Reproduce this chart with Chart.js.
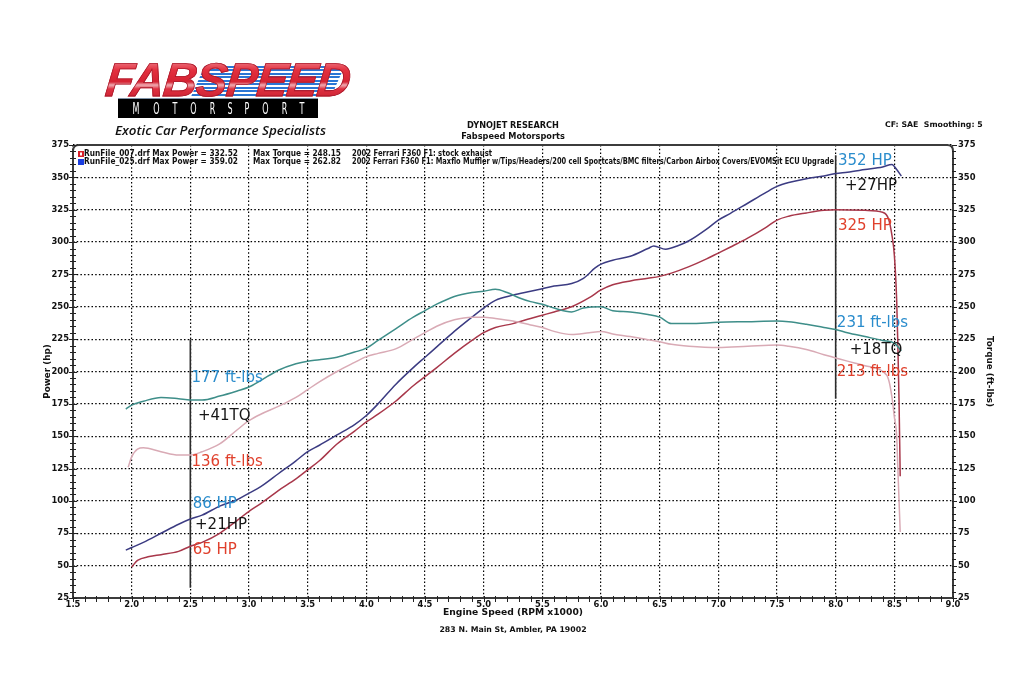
<!DOCTYPE html>
<html><head><meta charset="utf-8">
<script src="https://cdn.jsdelivr.net/npm/chart.js@4.4.1/dist/chart.umd.min.js"></script>
<style>
html,body{margin:0;padding:0;background:#fff;}
#wrap{position:relative;width:1024px;height:686px;overflow:hidden;background:#fff;}
#c{position:absolute;left:0;top:0;}
.abs{position:absolute;white-space:nowrap;}
#stripes{left:198px;top:66px;width:140px;height:30px;
  background:repeating-linear-gradient(180deg,#1f6fd2 0 2px,#ffffff 2px 3.5px);
  transform:skewX(-24deg);opacity:0.95;}
#fab{left:106px;top:56px;font:italic bold 47px 'Liberation Sans',Arial,sans-serif;line-height:47px;
  letter-spacing:-1px;color:transparent;
  background:linear-gradient(180deg,#f3a2aa 0%,#e3303f 30%,#d52232 55%,#f0b0b6 62%,#de3040 70%,#c41d2d 100%);
  -webkit-background-clip:text;background-clip:text;-webkit-text-stroke:0.8px #a9192a;}
#moto{left:118px;top:98px;width:200px;height:20px;background:#000;border-top:1px solid #7f93a8;
  display:flex;justify-content:space-between;align-items:center;padding:0 11px;box-sizing:border-box;}
#moto span{color:#fff;font:16px 'DejaVu Sans',sans-serif;line-height:18px;display:inline-block;transform:scaleX(0.5);}
#tag{left:115px;top:121px;font:italic 600 13px 'Open Sans','DejaVu Sans',sans-serif;color:#111;line-height:18px;}
</style></head><body>
<div id="wrap">
<canvas id="c" width="1024" height="686"></canvas>
<div id="stripes" class="abs"></div>
<div id="fab" class="abs">FABSPEED</div>
<div id="moto" class="abs"><span>M</span><span>O</span><span>T</span><span>O</span><span>R</span><span>S</span><span>P</span><span>O</span><span>R</span><span>T</span></div>
<div id="tag" class="abs">Exotic Car Performance Specialists</div>
</div>
<script>
// ---------------- DATA ----------------
const rpmTicks = ['1.5','2.0','2.5','3.0','3.5','4.0','4.5','5.0','5.5','6.0','6.5','7.0','7.5','8.0','8.5','9.0'];
const powerTicks = [25,50,75,100,125,150,175,200,225,250,275,300,325,350,375];

// RunFile_025 (modified) power, hp
const rpmHpMod = [1.95,2.0,2.1,2.25,2.4,2.5,2.6,2.75,2.9,3.0,3.1,3.25,3.4,3.5,3.6,3.75,3.9,4.0,4.1,4.25,4.4,4.5,4.6,4.75,4.9,5.0,5.1,5.25,5.4,5.5,5.6,5.75,5.85,5.95,6.0,6.1,6.25,6.4,6.45,6.55,6.65,6.75,6.9,7.0,7.1,7.25,7.4,7.5,7.6,7.75,7.9,8.0,8.1,8.25,8.4,8.48,8.52,8.56];
const hpMod    = [62,64,68,75,82,86,89,96,101,106,111,121,131,138,143,151,159,166,175,190,203,211,219,231,242,249,255,259,262,264,266,268,272,280,283,286,289,295,297,294.5,297,301,310,317,322,330,338,343,346,349,351,353,354,356,358,360,356,351];

// RunFile_007 (stock) power, hp
const rpmHpStock = [2.0,2.05,2.15,2.25,2.4,2.5,2.6,2.75,2.9,3.0,3.1,3.25,3.4,3.5,3.6,3.75,3.9,4.0,4.1,4.25,4.4,4.5,4.6,4.75,4.9,5.0,5.1,5.25,5.4,5.5,5.6,5.75,5.9,6.0,6.1,6.25,6.4,6.5,6.6,6.75,6.9,7.0,7.1,7.25,7.4,7.5,7.6,7.75,7.9,8.0,8.25,8.4,8.45,8.48,8.5,8.52,8.53,8.54,8.55];
const hpStock    = [49,54,57,58.5,61,65,68,75,85,92,98,108,117,124,131,144,154,161,167,177,189,196,203,214,224,230,234,237,241,243.5,246,250,257,263,267,270,272,273.5,276,281,287,291.5,296,303,311,317,320,322.5,324.5,325,324.5,323,318,305,290,255,220,178,119];

// RunFile_025 (modified) torque, ft-lbs
const rpmTqMod = [1.95,2.0,2.1,2.25,2.4,2.5,2.6,2.75,2.9,3.0,3.1,3.25,3.4,3.5,3.6,3.75,3.9,4.0,4.1,4.25,4.4,4.5,4.6,4.75,4.9,5.0,5.1,5.2,5.3,5.4,5.5,5.6,5.75,5.85,6.0,6.1,6.25,6.4,6.5,6.6,6.75,7.0,7.25,7.5,7.6,7.75,7.9,8.0,8.1,8.25,8.4,8.5,8.56];
const tqMod    = [171,174,177,180,179,178,178,181,185,188,193,201,206,208,209,211,215,218,224,233,242,247,252,258,261,262,263.5,261,257,254,252,249,246,249,250,247,246,244,242,237,237,238,238.5,239,238.5,236.5,234,232.5,230,227,224,222,216];

// RunFile_007 (stock) torque, ft-lbs
const rpmTqStock = [1.97,2.0,2.05,2.1,2.25,2.4,2.5,2.6,2.75,2.9,3.0,3.1,3.25,3.4,3.5,3.6,3.75,3.9,4.0,4.1,4.25,4.4,4.5,4.6,4.75,4.9,5.0,5.1,5.25,5.4,5.5,5.6,5.75,5.9,6.0,6.1,6.25,6.4,6.5,6.6,6.75,7.0,7.25,7.5,7.6,7.75,7.9,8.0,8.1,8.25,8.4,8.45,8.48,8.5,8.52,8.53,8.55];
const tqStock    = [126,134,140,141,138,135.5,135.5,138,144,155,162,167,173,180,186,192,200,207,211.5,214,217.5,225,230,235,240,242,242,241,239,236,234,231,228.5,230,231,229,227,224.5,223,221,219.5,218.5,219.5,220.5,219.5,217,213,210.5,208,204.5,200,194,180,165,150,125,76];

// comparison marker lines (rpm, low value, high value)
const markerRpm  = [2.5, 8.0];
const markerLow  = [33, 179];
const markerHigh = [225, 367];

// call-out labels (text, rpm, value, colour group)
const calloutText  = ['177 ft-lbs','+41TQ','136 ft-lbs','86 HP','+21HP','65 HP','352 HP','+27HP','325 HP','231 ft-lbs','+18TQ','213 ft-lbs'];
const calloutRpm   = [2.51,2.565,2.51,2.52,2.54,2.52,8.02,8.08,8.02,8.01,8.12,8.01];
const calloutValue = [195.2,165.6,130.3,97.6,81.4,62.1,362.2,343.6,312.5,237.3,216.6,199.9];
const calloutGroup = ['mod','gain','stock','mod','gain','stock','mod','gain','stock','mod','gain','stock'];

const legendRows = [
  ['RunFile_007.drf Max Power = 332.52','Max Torque = 248.15','2002 Ferrari F360 F1: stock exhaust'],
  ['RunFile_025.drf Max Power = 359.02','Max Torque = 262.82','2002 Ferrari F360 F1: Maxflo Muffler w/Tips/Headers/200 cell Sportcats/BMC filters/Carbon Airbox Covers/EVOMSit ECU Upgrade']
];

// ---------------- STYLE ----------------
const C = {
  hpMod:'#3b3b82', hpStock:'#a8374a', tqMod:'#3e8e89', tqStock:'#d9aab5',
  mod:'#2a8ccc', stock:'#e0402c', gain:'#151515'
};
const pts = (xs, ys) => xs.map((x,i)=>({x, y:ys[i]}));
const lineDs = (data, color, axis) => ({data, borderColor:color, borderWidth:1.5, pointRadius:0,
  cubicInterpolationMode:'monotone', fill:false, yAxisID:axis});

const datasets = [
  lineDs(pts(rpmTqStock,tqStock), C.tqStock, 'yR'),
  lineDs(pts(rpmTqMod,tqMod), C.tqMod, 'yR'),
  lineDs(pts(rpmHpStock,hpStock), C.hpStock, 'y'),
  lineDs(pts(rpmHpMod,hpMod), C.hpMod, 'y'),
];
markerRpm.forEach((r,i)=>{
  datasets.push({data:[{x:r,y:markerHigh[i]},{x:r,y:markerLow[i]}], borderColor:'#2b2b2b', borderWidth:1.6,
    pointRadius:0, tension:0, yAxisID:'y'});
});

const F = "'DejaVu Sans', Verdana, sans-serif";

const decor = {
  id:'decor',
  beforeDatasetsDraw(chart){
    const {ctx, chartArea:a, scales} = chart;
    const x = scales.x, y = scales.y;
    ctx.save();
    ctx.strokeStyle = '#3c3c3c'; ctx.lineWidth = 2;
    const r = 6;
    ctx.beginPath();
    ctx.moveTo(a.left, a.bottom);
    ctx.lineTo(a.left, a.top + r);
    ctx.quadraticCurveTo(a.left, a.top, a.left + r, a.top);
    ctx.lineTo(a.right - r, a.top);
    ctx.quadraticCurveTo(a.right, a.top, a.right, a.top + r);
    ctx.lineTo(a.right, a.bottom);
    ctx.closePath();
    ctx.stroke();
    ctx.lineWidth = 1; ctx.strokeStyle = '#222';
    ctx.beginPath();
    for (let v = 25; v <= 375.001; v += 5) {
      const py = Math.round(y.getPixelForValue(v)) + 0.5;
      const big = Math.abs(v % 25) < 1e-6;
      ctx.moveTo(a.left - (big?4:3), py); ctx.lineTo(a.left + (big?4:3), py);
      ctx.moveTo(a.right - 1, py); ctx.lineTo(a.right + (big?4:3), py);
    }
    for (let k = 0; k <= 75; k++) {
      const px = Math.round(x.getPixelForValue(1.5 + k*0.1)) + 0.5;
      ctx.moveTo(px, a.bottom - 2); ctx.lineTo(px, a.bottom + 4);
    }
    ctx.stroke();
    ctx.restore();
  },
  afterDatasetsDraw(chart){
    const {ctx, chartArea:a, scales} = chart;
    const x = scales.x, y = scales.y;
    ctx.save();
    // call-outs
    ctx.font = "15px " + F; ctx.textBaseline = 'middle'; ctx.textAlign = 'left';
    calloutText.forEach((t,i)=>{
      ctx.fillStyle = C[calloutGroup[i]];
      ctx.fillText(t, x.getPixelForValue(calloutRpm[i]), y.getPixelForValue(calloutValue[i]));
    });
    // legend rows
    const rowY = [a.top + 9, a.top + 17];
    const colX = [a.left + 11, a.left + 180, a.left + 279];
    const colW = [[154, 88, 140],[154, 88, 482]];
    ctx.font = "bold 8.2px " + F; ctx.fillStyle = '#111';
    legendRows.forEach((row, ri)=>{
      row.forEach((t, ci)=> ctx.fillText(t, colX[ci], rowY[ri], colW[ri][ci]));
    });
    // icons
    ctx.fillStyle = '#d8202a'; ctx.fillRect(a.left + 5, rowY[0] - 3, 6, 6);
    ctx.fillStyle = '#fff'; ctx.fillRect(a.left + 7, rowY[0] - 1.5, 2, 3);
    ctx.fillStyle = '#1a3de0'; ctx.fillRect(a.left + 5, rowY[1] - 3, 6, 6);
    ctx.restore();
  },
  afterDraw(chart){
    const {ctx, chartArea:a} = chart;
    const cx = (a.left + a.right) / 2;
    ctx.save();
    ctx.fillStyle = '#111'; ctx.textBaseline = 'middle';
    ctx.font = "bold 8.2px " + F; ctx.textAlign = 'center';
    ctx.fillText('DYNOJET RESEARCH', cx, 126);
    ctx.fillText('Fabspeed Motorsports', cx, 137);
    ctx.font = "bold 7.8px " + F;
    ctx.fillText('283 N. Main St, Ambler, PA 19002', cx, 630);
    ctx.textAlign = 'left';
    ctx.font = "bold 7.8px " + F;
    ctx.fillText('CF: SAE  Smoothing: 5', 885, 125);
    ctx.restore();
  }
};

const tickFont = {family:F, size:8.4, weight:'bold'};
const titleFont = {family:F, size:8.8, weight:'bold'};

new Chart(document.getElementById('c'), {
  type:'line',
  data:{datasets},
  plugins:[decor],
  options:{
    responsive:false, animation:false, devicePixelRatio:1,
    layout:{padding:{top:145, left:0, right:0, bottom:0}},
    plugins:{legend:{display:false}, tooltip:{enabled:false}},
    scales:{
      x:{type:'linear', min:1.5, max:9.0,
        afterFit:s=>{s.height = 88;},
        ticks:{stepSize:0.5, padding:2, color:'#111', font:tickFont, maxRotation:0, autoSkip:false,
          callback:v=>rpmTicks.find(t=>Math.abs(parseFloat(t)-v)<1e-6) ?? ''},
        grid:{color:'#000', lineWidth:1.2, drawTicks:false},
        border:{display:false, dash:[1.5,2.2]},
        title:{display:true, text:'Engine Speed (RPM x1000)', color:'#111', font:{family:F,size:9.2,weight:'bold'}, padding:{top:0,bottom:67.5}}
      },
      y:{type:'linear', position:'left', min:25, max:375,
        afterFit:s=>{s.width = 73;},
        ticks:{stepSize:25, padding:4, color:'#111', font:tickFont,
          callback:v=>powerTicks.includes(v) ? String(v) : ''},
        grid:{color:'#000', lineWidth:1.2, drawTicks:false},
        border:{display:false, dash:[1.5,2.2]},
        title:{display:true, text:'Power (hp)', color:'#111', font:titleFont, padding:{top:42,bottom:0}}
      },
      yR:{type:'linear', position:'right', min:25, max:375,
        afterFit:s=>{s.width = 71;},
        ticks:{stepSize:25, padding:5, color:'#111', font:tickFont,
          callback:v=>powerTicks.includes(v) ? String(v) : ''},
        grid:{drawOnChartArea:false, drawTicks:false},
        border:{display:false},
        title:{display:true, text:'Torque (ft-lbs)', color:'#111', font:titleFont, padding:{top:29,bottom:0}}
      }
    }
  }
});

// fit logo texts
function fitW(el, w, extra){
  const bw = el.getBoundingClientRect().width;
  el.style.transformOrigin = 'left center';
  el.style.transform = (extra||'') + ' scaleX(' + (w/bw) + ')';
}
fitW(document.getElementById('fab'), 244, 'skewX(-6deg)');
fitW(document.getElementById('tag'), 211, '');
</script>
</body></html>
